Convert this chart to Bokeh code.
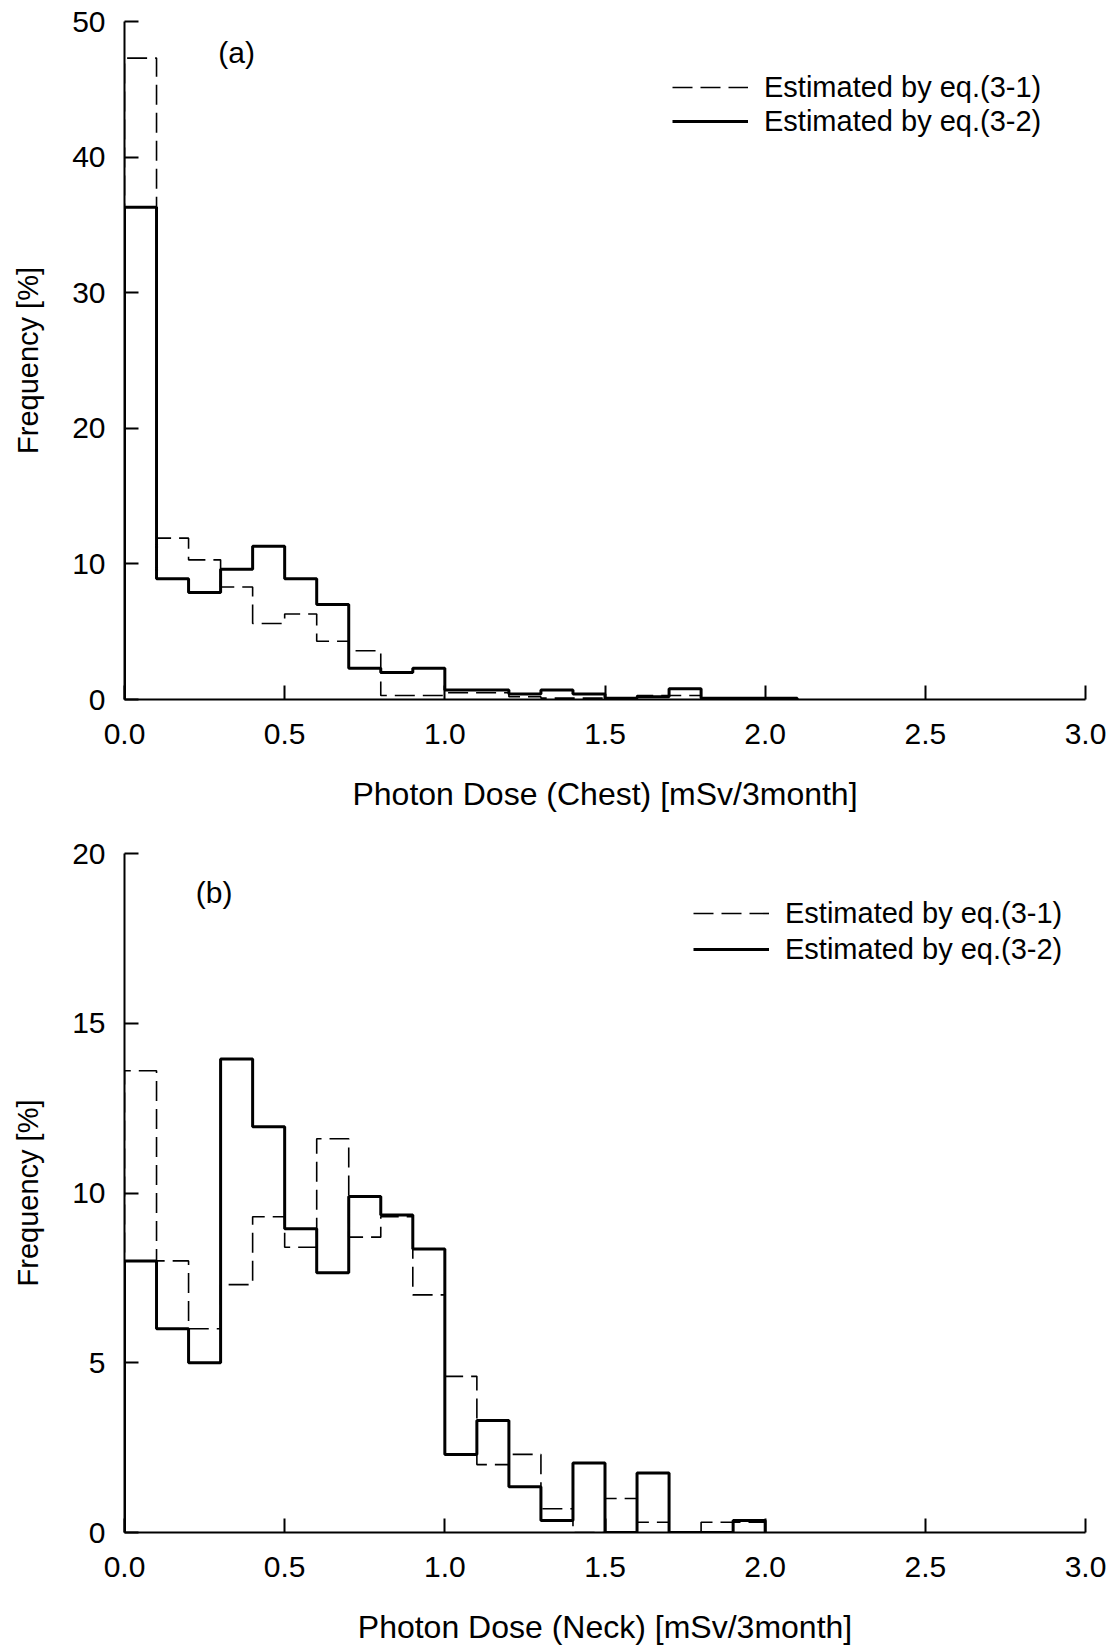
from bokeh.plotting import figure
from bokeh.layouts import column
from bokeh.models import Legend, LegendItem, FixedTicker, PrintfTickFormatter, Label, Range1d
from bokeh.embed import file_html
from bokeh.resources import INLINE

# ---------------- data ----------------
bin_width = 0.1
x_ticks = [0.0, 0.5, 1.0, 1.5, 2.0, 2.5, 3.0]

# (a) chest
chest_ticks = [0, 10, 20, 30, 40, 50]
chest_eq31 = [47.3, 11.9, 10.3, 8.3, 5.6, 6.3, 4.3, 3.6, 0.3, 0.3,
              0.5, 0.5, 0.2, 0.1, 0.1, 0.0, 0.3, 0.3, 0.1, 0.1, 0.0]
chest_eq32 = [36.3, 8.9, 7.9, 9.6, 11.3, 8.9, 7.0, 2.3, 2.0, 2.3,
              0.7, 0.7, 0.4, 0.7, 0.4, 0.1, 0.2, 0.8, 0.1, 0.1, 0.1]

# (b) neck
neck_ticks = [0, 5, 10, 15, 20]
neck_eq31 = [13.6, 8.0, 6.0, 7.3, 9.3, 8.4, 11.6, 8.7, 9.3, 7.0,
             4.6, 2.0, 2.3, 0.7, 0.0, 1.0, 0.3, 0.0, 0.3, 0.3]
neck_eq32 = [8.0, 6.0, 5.0, 13.95, 11.95, 8.95, 7.65, 9.9, 9.35, 8.35,
             2.3, 3.3, 1.35, 0.35, 2.05, 0.0, 1.75, 0.0, 0.0, 0.35]

labels = ["Estimated by eq.(3-1)", "Estimated by eq.(3-2)"]
FONT = "Liberation Sans"


def step_xy(vals):
    xs = [0.0] + [round(i * bin_width, 3) for i in range(len(vals) + 1)]
    ys = [0.0] + list(vals) + [0.0]
    return xs, ys


def make_panel(eq31, eq32, yticks, ymax, xlabel, tag, tag_xy, border, leg):
    p = figure(width=1116, height=824, output_backend="svg", toolbar_location=None,
               x_range=Range1d(0, 3), y_range=Range1d(0, ymax),
               min_border_left=124, min_border_right=31,
               min_border_top=border[0], min_border_bottom=border[1])
    p.outline_line_color = None
    p.xgrid.grid_line_color = None
    p.ygrid.grid_line_color = None
    p.background_fill_color = "white"
    p.border_fill_color = "white"

    for ax in (p.xaxis[0], p.yaxis[0]):
        ax.axis_line_width = 2
        ax.major_tick_line_width = 2
        ax.major_tick_in = 14
        ax.major_tick_out = 0
        ax.minor_tick_line_color = None
        ax.major_label_text_font = FONT
        ax.major_label_text_font_size = "30px"
        ax.major_label_text_color = "black"
        ax.axis_label_text_font = FONT
        ax.axis_label_text_font_style = "normal"
        ax.axis_label_text_color = "black"
        ax.axis_line_color = "black"
        ax.major_tick_line_color = "black"

    p.xaxis.ticker = FixedTicker(ticks=x_ticks)
    p.xaxis.formatter = PrintfTickFormatter(format="%.1f")
    p.xaxis.axis_label = xlabel
    p.xaxis.axis_label_text_font_size = "32px"
    p.xaxis.major_label_standoff = 24
    p.xaxis.axis_label_standoff = 29

    p.yaxis.ticker = FixedTicker(ticks=yticks)
    p.yaxis.formatter = PrintfTickFormatter(format="%d")
    p.yaxis.axis_label = "Frequency [%]"
    p.yaxis.axis_label_text_font_size = "29px"
    p.yaxis.major_label_standoff = 19
    p.yaxis.axis_label_standoff = 25

    xs, ys = step_xy(eq31)
    r1 = p.step(xs, ys, mode="after", line_color="black", line_width=1.6, line_dash="20 8")
    xs, ys = step_xy(eq32)
    r2 = p.step(xs, ys, mode="after", line_color="black", line_width=3)

    legend = Legend(items=[LegendItem(label=labels[0], renderers=[r1]),
                           LegendItem(label=labels[1], renderers=[r2])],
                    location=leg["loc"], padding=0, margin=0, spacing=0,
                    glyph_width=76, glyph_height=leg["h"], label_height=leg["h"],
                    label_standoff=16, label_text_font=FONT, label_text_font_size="29px",
                    label_text_color="black", border_line_color=None,
                    background_fill_alpha=0)
    p.add_layout(legend)

    p.add_layout(Label(x=tag_xy[0], y=tag_xy[1], text=tag, text_font=FONT,
                       text_font_size="30px", text_align="center",
                       text_baseline="middle", text_color="black"))
    return p


p1 = make_panel(chest_eq31, chest_eq32, chest_ticks, 50,
                "Photon Dose (Chest) [mSv/3month]", "(a)", (0.35, 47.7),
                (21, 125), {"loc": (548, 561), "h": 34})
p2 = make_panel(neck_eq31, neck_eq32, neck_ticks, 20,
                "Photon Dose (Neck) [mSv/3month]", "(b)", (0.28, 18.85),
                (29, 116), {"loc": (569, 565), "h": 36})

layout = column(p1, p2, spacing=0)
open("out.html", "w").write(file_html(layout, INLINE))
